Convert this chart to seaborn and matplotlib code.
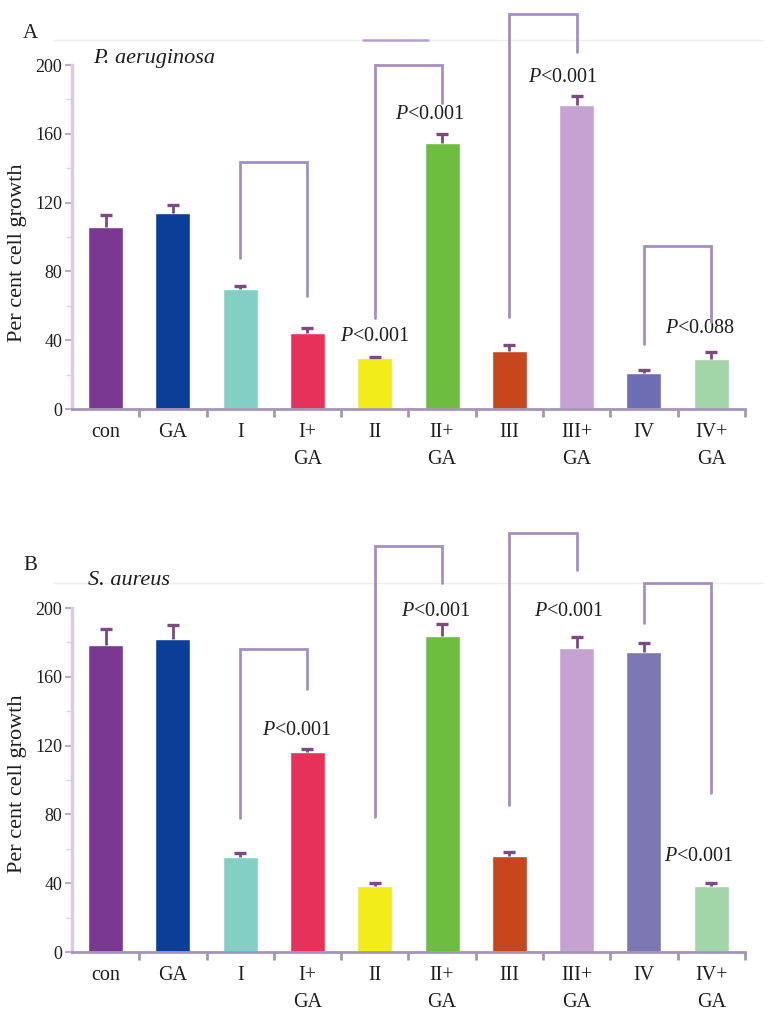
import numpy as np
import matplotlib.pyplot as plt
import seaborn as sns
from matplotlib.lines import Line2D

# categories on the x axis
groups = ["con", "GA", "I", "I+\nGA", "II", "II+\nGA", "III", "III+\nGA", "IV", "IV+\nGA"]

# panel A: P. aeruginosa (mean, upper error)
growth_a = [106, 114, 70, 44.5, 29.5, 154.5, 33.5, 176.5, 21, 29]
err_a = [7, 4.5, 1.5, 2.5, 1, 5.5, 3.5, 5.5, 1.5, 4]

# panel B: S. aureus
growth_b = [178.5, 182, 55, 116.5, 38.5, 183.5, 56, 176.5, 174.5, 38.5]
err_b = [9.5, 8, 2.5, 1.5, 1.5, 7, 2, 6.5, 5, 1.5]

colors_a = ["#7B3892", "#0B3F97", "#82D0C3", "#E6325B", "#F2EC1A",
            "#6DBE3E", "#C6461D", "#C5A2D2", "#6E6DB3", "#A2D5A8"]
colors_b = ["#7B3892", "#0B3F97", "#82D0C3", "#E6325B", "#F2EC1A",
            "#6DBE3E", "#C6461D", "#C5A2D2", "#7D78B2", "#A2D5A8"]

# significance brackets: (left bar, right bar, top, left leg end, right leg end)
brackets_a = [(2, 3, 143.5, 88, 66), (4, 5, 200, 53, 178),
              (6, 7, 229.5, 53.5, 207.5), (8, 9, 95, 38, 50.5)]
brackets_b = [(2, 3, 176, 78, 153), (4, 5, 236, 78.5, 214.5),
              (6, 7, 243.5, 85.5, 222), (8, 9, 214.5, 191, 92.5)]

# p-value labels: (bar, y, text)
plabels_a = [(4, 42, "0.001"), (5, 171, "0.001"), (7, 193, "0.001"), (9, 47, "0.088")]
plabels_b = [(3, 129, "0.001"), (5, 198, "0.001"), (7, 198, "0.001"), (9, 55.5, "0.001")]
plabel_shift_a = [0.0, -0.18, -0.2, -0.16]
plabel_shift_b = [-0.15, -0.09, -0.12, -0.18]

sns.set_style("white")
plt.rcParams['font.family'] = ['Liberation Serif', 'DejaVu Serif']
plt.rcParams['mathtext.fontset'] = 'custom'
plt.rcParams['mathtext.it'] = 'Liberation Serif:italic'
plt.rcParams['mathtext.rm'] = 'Liberation Serif'

BRACKET = "#A48FC2"
ERR = "#7A4A80"
TXT = "#1E1E1E"


def draw_panel(ax, growth, err, colors, brackets, plabels, shifts, label_y):
    n = len(groups)
    sns.barplot(x=groups, y=growth, hue=groups, palette=dict(zip(groups, colors)),
                legend=False, width=0.52, saturation=1, ax=ax)
    eb = ax.errorbar(np.arange(n), growth, yerr=[np.zeros(n), err], fmt='none',
                     ecolor=ERR, elinewidth=2, capsize=4.5, capthick=2.4, zorder=3)
    eb[1][0].set_visible(False)  # only the upper cap

    for i, j, top, yl, yr in brackets:
        ax.plot([i, i, j, j], [yl, top, top, yr], color=BRACKET, lw=2,
                clip_on=False, solid_joinstyle='miter', zorder=4)

    for (b, y, txt), dx in zip(plabels, shifts):
        ax.text(b + dx, y, r"$P$<" + txt, ha='center', va='center',
                fontsize=14.5, color=TXT, clip_on=False)

    ax.set_xlim(-0.5, n - 0.5)
    ax.set_ylim(0, 200)
    ax.set_yticks(range(0, 201, 40))
    ax.set_yticks(range(20, 200, 40), minor=True)
    ax.set_xticks(np.arange(0.5, n, 1.0), minor=True)
    ax.tick_params(axis='y', which='major', length=5, width=1.5, color="#B8AACB",
                   labelsize=13, labelcolor=TXT, pad=2, left=True)
    ax.tick_params(axis='y', which='minor', length=4, width=1, color="#DDD5E6", left=True)
    ax.tick_params(axis='x', which='major', length=0, labelsize=14.5,
                   labelcolor=TXT, pad=10)
    ax.tick_params(axis='x', which='minor', length=6, width=2, color="#A595B8",
                   bottom=True)
    for lab in ax.get_xticklabels():
        lab.set_linespacing(1.6)
        lab.set_verticalalignment('top')

    ax.set_xlabel("")
    ax.set_ylabel("Per cent cell growth", fontsize=16, color=TXT)
    ax.yaxis.set_label_coords(-0.067, label_y)
    for s in ("top", "right"):
        ax.spines[s].set_visible(False)
    ax.spines["left"].set_color("#D6CDE3")
    ax.spines["left"].set_linewidth(2.5)
    ax.spines["left"].set_bounds(0, 200)
    ax.spines["bottom"].set_color("#A595B8")
    ax.spines["bottom"].set_linewidth(2)
    ax.grid(False)


fig = plt.figure(figsize=(7.71, 10.13), dpi=100)
ax_a = fig.add_axes([0.0934, 0.5962, 0.8726, 0.3396])
ax_b = fig.add_axes([0.0934, 0.0602, 0.8726, 0.3396])

draw_panel(ax_a, growth_a, err_a, colors_a, brackets_a, plabels_a, plabel_shift_a, 0.453)
draw_panel(ax_b, growth_b, err_b, colors_b, brackets_b, plabels_b, plabel_shift_b, 0.49)

# faint rules across the top of each panel
for y in (0.9605, 0.4245):
    fig.add_artist(Line2D([0.069, 0.99], [y, y], color="#F0EDF2", lw=1, zorder=0))
fig.add_artist(Line2D([0.471, 0.555], [0.9605, 0.9605], color="#B3A3CA", lw=1.8))

fig.text(0.030, 0.967, "A", fontsize=15, color=TXT, va='center')
fig.text(0.1206, 0.9427, "P. aeruginosa", fontsize=16, style='italic', color=TXT, va='center')
fig.text(0.030, 0.442, "B", fontsize=15, color=TXT, va='center')
fig.text(0.114, 0.4274, "S. aureus", fontsize=16, style='italic', color=TXT, va='center')

plt.savefig("out.png", dpi=100)
plt.close()
